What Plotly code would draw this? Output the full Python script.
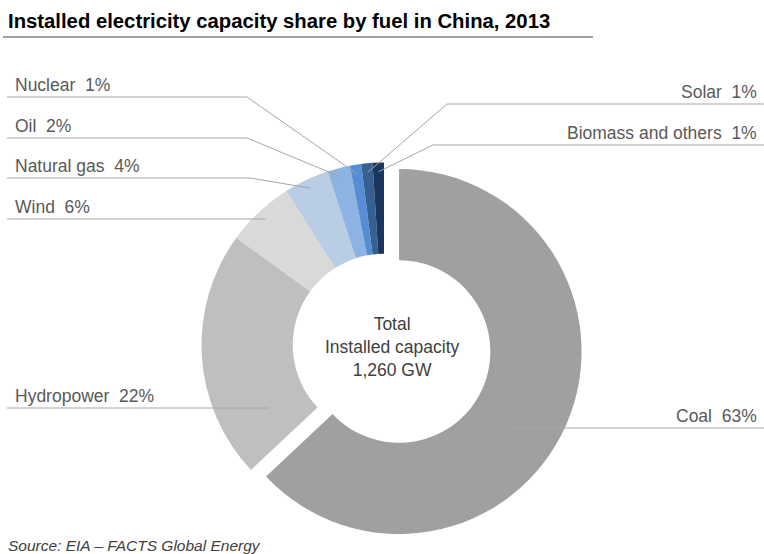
import math
import plotly.graph_objects as go

# ---- data ----
fuels = ["Coal", "Hydropower", "Wind", "Natural gas", "Oil", "Nuclear", "Solar", "Biomass and others"]
shares = [63, 22, 6, 4, 2, 1, 1, 1]
colors = ["#a0a0a0", "#bfbfbf", "#d9d9d9", "#b9cde5", "#8db3e2", "#558ed5", "#376092", "#1b365d"]
pulls = [0.09, 0, 0, 0, 0, 0, 0, 0]
total_text = ["Total", "Installed capacity", "1,260 GW"]
title_text = "Installed electricity capacity share by fuel in China, 2013"
source_text = "Source: EIA \u2013 FACTS Global Energy"

# ---- layout geometry (pixels) ----
W, H = 764, 554
CX, CY, R = 384, 345, 182.5
HOLE = 0.5
s = R * (1 + max(pulls))
dom_x = [(CX - s) / W, (CX + s) / W]
dom_y = [1 - (CY + s) / H, 1 - (CY - s) / H]

# label layout: side, line y, knee x, anchor mode
label_layout = {
    "Nuclear": ("left", 97, 247, "radial"),
    "Oil": ("left", 138, 247, "radial"),
    "Natural gas": ("left", 178, 250, "radial"),
    "Wind": ("left", 219, None, "radial"),
    "Hydropower": ("left", 408, None, "level"),
    "Solar": ("right", 104, 447, "radial"),
    "Biomass and others": ("right", 145, 433, "radial"),
    "Coal": ("right", 428, None, "level"),
}

def px(x):
    return x / W

def py(y):
    return 1 - y / H

fig = go.Figure(go.Pie(
    labels=fuels, values=shares, sort=False, direction="clockwise", rotation=0,
    hole=HOLE, pull=pulls, marker=dict(colors=colors, line=dict(width=0)),
    textinfo="none", hoverinfo="label+percent", showlegend=False,
    domain=dict(x=dom_x, y=dom_y),
))

shapes = []
annotations = []
line_col = "#a6a6a6"
text_col = "#595959"
font_fam = "Liberation Sans, Arial, sans-serif"
LBL = 17.5

cum = 0.0
tot = float(sum(shares))
for name, v, p in zip(fuels, shares, pulls):
    theta = math.radians(360 * (cum + v / 2) / tot)
    cum += v
    ccx = CX + p * R * math.sin(theta)
    ccy = CY - p * R * math.cos(theta)
    side, ly, knee, mode = label_layout[name]
    if mode == "radial":
        rho = 0.95 * R
        ax = ccx + rho * math.sin(theta)
        ay = ccy - rho * math.cos(theta)
    else:
        rmid = R * (1 + HOLE) / 2 - 6
        dy = ly - ccy
        dx = math.sqrt(max(rmid ** 2 - dy ** 2, 0))
        ax = ccx + (dx if side == "right" else -dx)
        ay = ly
    if knee is None:
        knee = ax
    x0 = 7 if side == "left" else W
    shapes.append(dict(type="line", xref="paper", yref="paper",
                       x0=px(x0), y0=py(ly), x1=px(knee), y1=py(ly),
                       line=dict(color=line_col, width=1)))
    if abs(knee - ax) > 0.5 or abs(ly - ay) > 0.5:
        shapes.append(dict(type="line", xref="paper", yref="paper",
                           x0=px(knee), y0=py(ly), x1=px(ax), y1=py(ay),
                           line=dict(color=line_col, width=1)))
    label = f"{name} \u00a0{v}%"
    if side == "left":
        annotations.append(dict(x=px(13), y=py(ly - 12), xref="paper", yref="paper",
                                text=label, showarrow=False, xanchor="left", yanchor="middle",
                                font=dict(size=LBL, color=text_col, family=font_fam)))
    else:
        annotations.append(dict(x=px(759), y=py(ly - 12), xref="paper", yref="paper",
                                text=label, showarrow=False, xanchor="right", yanchor="middle",
                                font=dict(size=LBL, color=text_col, family=font_fam)))

# hole text, centred between the ring and the pulled slice
theta_c = math.radians(360 * (shares[0] / 2) / tot)
hx = CX + pulls[0] * R * math.sin(theta_c) / 2
hy = CY - pulls[0] * R * math.cos(theta_c) / 2
annotations.append(dict(x=px(hx), y=py(hy - 1), xref="paper", yref="paper",
                        text="<br>".join(total_text), showarrow=False,
                        xanchor="center", yanchor="middle",
                        font=dict(size=17.5, color="#404040", family=font_fam)))

# title and underline
annotations.append(dict(x=px(6), y=py(21), xref="paper", yref="paper",
                        text=f"<b>{title_text}</b>", showarrow=False,
                        xanchor="left", yanchor="middle",
                        font=dict(size=20.3, color="#000000", family=font_fam)))
shapes.append(dict(type="line", xref="paper", yref="paper",
                   x0=px(3), y0=py(37), x1=px(593), y1=py(37),
                   line=dict(color="#7f7f7f", width=1.5)))

# source
annotations.append(dict(x=px(6), y=py(545), xref="paper", yref="paper",
                        text=f"<i>{source_text}</i>", showarrow=False,
                        xanchor="left", yanchor="middle",
                        font=dict(size=15.5, color="#404040", family=font_fam)))

fig.update_layout(
    width=W, height=H, margin=dict(l=0, r=0, t=0, b=0),
    paper_bgcolor="white", plot_bgcolor="white",
    shapes=shapes, annotations=annotations,
)

fig.write_html("out.html", config={"displayModeBar": False},
               post_script="document.body.style.margin='0';")
